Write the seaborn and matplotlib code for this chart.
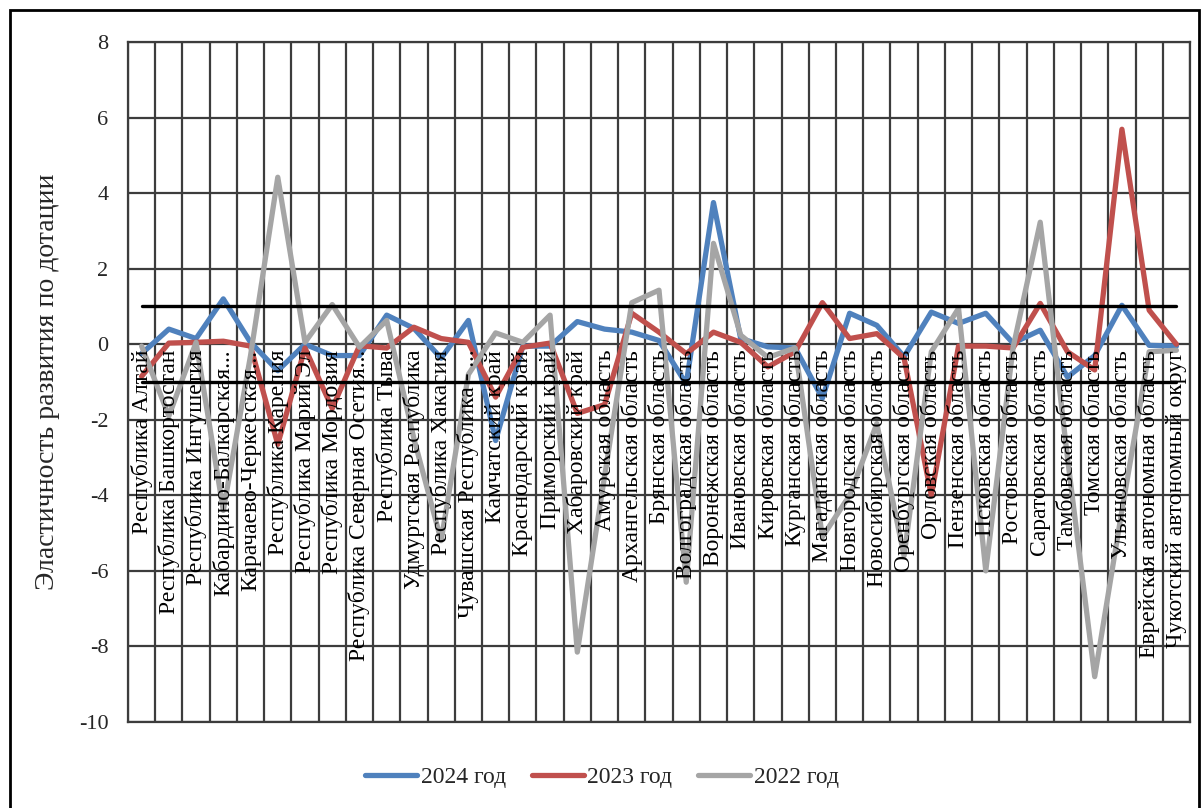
import numpy as np
import pandas as pd
import matplotlib
matplotlib.use("Agg")
import matplotlib.pyplot as plt
import seaborn as sns
from matplotlib.lines import Line2D
from matplotlib.patches import Rectangle

regions = [
    "Республика Алтай", "Республика Башкортостан", "Республика Ингушетия",
    "Кабардино-Балкарская...", "Карачаево-Черкесская...", "Республика Карелия",
    "Республика Марий Эл", "Республика Мордовия", "Республика Северная Осетия...",
    "Республика Тыва", "Удмуртская Республика", "Республика Хакасия",
    "Чувашская Республика - ...", "Камчатский край", "Краснодарский край",
    "Приморский край", "Хабаровский край", "Амурская область",
    "Архангельская область", "Брянская область", "Волгоградская область",
    "Воронежская область", "Ивановская область", "Кировская область",
    "Курганская область", "Магаданская область", "Новгородская область",
    "Новосибирская область", "Оренбургская область", "Орловская область",
    "Пензенская область", "Псковская область", "Ростовская область",
    "Саратовская область", "Тамбовская область", "Томская область",
    "Ульяновская область", "Еврейская автономная область",
    "Чукотский автономный округ",
]

v2024 = [-0.25, 0.40, 0.15, 1.20, 0.05, -0.70, 0.00, -0.30, -0.30, 0.77,
         0.42, -0.37, 0.63, -2.55, -0.05, -0.05, 0.60, 0.40, 0.32, 0.10,
         -1.05, 3.75, 0.15, -0.07, -0.10, -1.43, 0.82, 0.50, -0.33, 0.85,
         0.55, 0.82, 0.03, 0.37, -0.87, -0.30, 1.03, -0.03, -0.05]

v2023 = [-0.85, 0.03, 0.05, 0.08, -0.05, -2.65, -0.10, -1.70, -0.04, -0.10,
         0.45, 0.15, 0.05, -1.40, -0.08, 0.03, -1.83, -1.60, 0.82, 0.32,
         -0.25, 0.32, 0.05, -0.60, -0.20, 1.10, 0.15, 0.28, -0.37, -4.00,
         -0.05, -0.05, -0.10, 1.08, -0.20, -0.68, 5.69, 0.90, 0.00]

v2022 = [-0.05, -1.90, 0.05, -4.40, -0.30, 4.42, 0.05, 1.05, -0.08, 0.63,
         -2.50, -5.20, -0.80, 0.30, 0.05, 0.77, -8.15, -3.50, 1.10, 1.43,
         -6.30, 2.67, 0.24, -0.35, -0.10, -5.10, -4.00, -2.10, -5.60, -0.20,
         0.95, -6.00, -0.10, 3.23, -3.00, -8.80, -4.40, -0.20, -0.16]

series_names = ["2024 год", "2023 год", "2022 год"]
series_colors = ["#4F81BD", "#C0504D", "#A5A5A5"]
upper_bound = 1.0
lower_bound = -1.0
y_ticks = [-10, -8, -6, -4, -2, 0, 2, 4, 6, 8]
y_title = "Эластичность развития по дотации"

n = len(regions)
pos = np.arange(n)

sns.set_theme(style="white")
plt.rcParams["font.family"] = ["Liberation Serif", "DejaVu Serif"]

W, H = 1204, 808
fig = plt.figure(figsize=(W / 100, H / 100), dpi=100)
fig.patch.set_facecolor("white")
ax = fig.add_axes([128 / W, 1 - 722 / H, (1190 - 128) / W, (722 - 42) / H])

long = pd.DataFrame({"pos": pos, "2024 год": v2024, "2023 год": v2023,
                     "2022 год": v2022}).melt(id_vars="pos", var_name="series",
                                              value_name="value")
sns.lineplot(data=long, x="pos", y="value", hue="series",
             hue_order=series_names, palette=series_colors, sort=False,
             linewidth=3.8, legend=False, ax=ax, zorder=3)

# threshold levels at +1 and -1
bounds = pd.DataFrame({"pos": np.concatenate([pos, pos]),
                       "value": [upper_bound] * n + [lower_bound] * n,
                       "level": ["upper"] * n + ["lower"] * n})
sns.lineplot(data=bounds, x="pos", y="value", units="level", estimator=None,
             color="black", linewidth=2.4, legend=False, ax=ax, zorder=4)

ax.set_xlim(-0.5, n - 0.5)
ax.set_ylim(-10, 8)
ax.set_xticks(np.arange(-0.5, n, 1.0))
ax.set_xticklabels([])
ax.set_yticks(y_ticks)
ax.set_yticklabels([str(t) for t in y_ticks], fontsize=16)
ax.tick_params(axis="both", length=0)
ax.tick_params(axis="y", pad=14)
ax.grid(True, color="#3c3c3c", linewidth=1.6)
ax.set_axisbelow(True)
for sp in ax.spines.values():
    sp.set_color("#3c3c3c")
    sp.set_linewidth(1.6)
ax.set_xlabel("")
ax.set_ylabel(y_title, fontsize=20)
ax.yaxis.set_label_coords(-0.064, 0.5)

# region names written down the columns, starting just below the zero line
for i, name in enumerate(regions):
    ax.annotate(name, xy=(i, 0), xytext=(0, -4), textcoords="offset points",
                rotation=90, ha="center", va="top", fontsize=17,
                color="black", zorder=5)

handles = [Line2D([], [], color=c, linewidth=3.8, solid_capstyle="round")
           for c in series_colors]
fig.legend(handles, series_names, loc="center", bbox_to_anchor=(0.5, 1 - 777 / H),
           ncol=3, frameon=False, fontsize=17, handlelength=2.2,
           handletextpad=0.15, columnspacing=1.1)

fig.add_artist(Rectangle((10 / W, -0.01), (1199 - 10) / W, 1 - 10 / H + 0.01,
                         transform=fig.transFigure, fill=False,
                         edgecolor="black", linewidth=2))

fig.savefig("out.png", dpi=100, facecolor="white")
